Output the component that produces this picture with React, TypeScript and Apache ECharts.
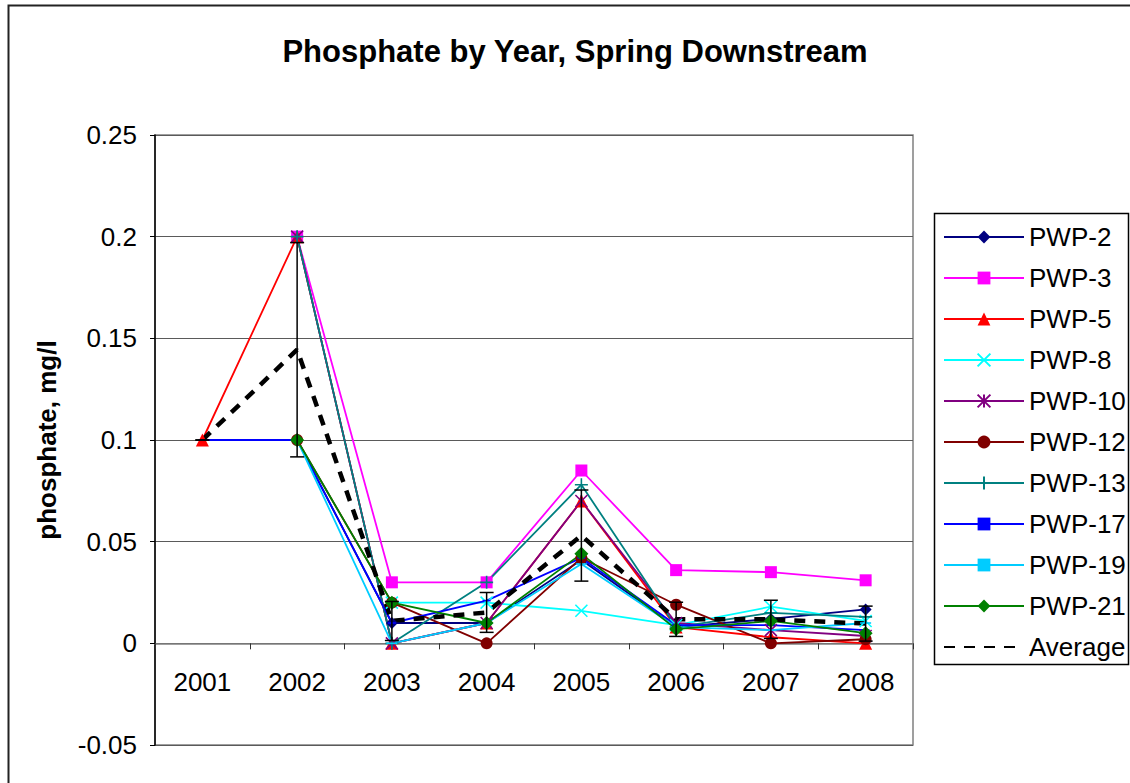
import React, { useEffect, useRef } from "react";
import * as echarts from "echarts";

const years = ["2001", "2002", "2003", "2004", "2005", "2006", "2007", "2008"];

const pwp2 = [null, 0.1, 0.01, 0.01, 0.041, 0.008, 0.012, 0.0167];
const pwp3 = [null, 0.2, 0.03, 0.03, 0.085, 0.036, 0.035, 0.031];
const pwp5 = [0.1, 0.2, 0, 0.01, 0.07, 0.008, 0.003, 0];
const pwp8 = [null, null, 0.02, 0.02, 0.016, 0.009, 0.018, 0.011];
const pwp10 = [null, 0.2, 0, 0.01, 0.07, 0.01, 0.0065, 0.0036];
const pwp12 = [null, 0.1, 0.02, 0, 0.042, 0.019, 0, 0.002];
const pwp13 = [null, 0.2, 0, 0.03, 0.078, 0.008, 0.015, 0.013];
const pwp17 = [0.1, 0.1, 0.01, 0.021, 0.042, 0.009, 0.009, 0.0065];
const pwp19 = [null, 0.1, 0, 0.01, 0.039, 0.008, 0.0065, 0.01];
const pwp21 = [null, 0.1, 0.02, 0.01, 0.044, 0.007, 0.011, 0.005];

const avgValues = [0.1, 0.1444, 0.011, 0.0152, 0.053, 0.0118, 0.0118, 0.0097];
const avgStd = [0, 0.0527, 0.0096, 0.0098, 0.0224, 0.0084, 0.0094, 0.0086];

const yTicks = { min: -0.05, max: 0.25, interval: 0.05 };

const FONT = "Arial, 'Liberation Sans', sans-serif";

const SYM_X = "path://M0,0L10,10M10,0L0,10";
const SYM_STAR = "path://M0,0L10,10M10,0L0,10M5,0L5,10";
const SYM_PLUS = "path://M5,0L5,10M0,5L10,5";
const SYM_DASH = "path://M0,0L10,0L10,4L0,4Z";

const GRID = { left: 155, right: 217, top: 135, bottom: 38 };
const CHART_H = 783;

function lineSeries(
  name: string,
  data: (number | null)[],
  color: string,
  symbol: string,
  symbolSize: number | number[],
  stroke = false,
  keepAspect = false
) {
  return {
    type: "line",
    name,
    data,
    symbol,
    symbolSize,
    symbolKeepAspect: keepAspect,
    showSymbol: true,
    connectNulls: false,
    lineStyle: { color, width: 1.8 },
    itemStyle: stroke
      ? { color: "rgba(0,0,0,0)", borderColor: color, borderWidth: 1.6 }
      : { color, borderWidth: 0 },
    emphasis: { disabled: true },
    silent: true,
  };
}

export default function App() {
  const ref = useRef<HTMLDivElement>(null);

  useEffect(() => {
    if (!ref.current) return;
    const chart = echarts.init(ref.current, undefined, { renderer: "svg" });

    const gridH = CHART_H - GRID.top - GRID.bottom;
    const zeroOffset = -((0 - yTicks.min) / (yTicks.max - yTicks.min)) * gridH;

    const series: any[] = [
      lineSeries("PWP-2", pwp2, "#000080", "diamond", 12),
      lineSeries("PWP-3", pwp3, "#FF00FF", "rect", 12),
      lineSeries("PWP-5", pwp5, "#FF0000", "triangle", 13),
      lineSeries("PWP-8", pwp8, "#00FFFF", SYM_X, 12, true),
      lineSeries("PWP-10", pwp10, "#800080", SYM_STAR, 12, true),
      lineSeries("PWP-12", pwp12, "#800000", "circle", 12),
      lineSeries("PWP-13", pwp13, "#008080", SYM_PLUS, 13, true),
      lineSeries("PWP-17", pwp17, "#0000FF", SYM_DASH, [8, 4], false, true),
      lineSeries("PWP-19", pwp19, "#00CCFF", SYM_DASH, [11, 4], false, true),
      lineSeries("PWP-21", pwp21, "#008000", "diamond", 14),
      {
        type: "line",
        name: "Average",
        data: avgValues,
        symbol: "circle",
        symbolSize: 1,
        showSymbol: false,
        lineStyle: { color: "#000", width: 4.5, type: [11, 9] },
        itemStyle: { color: "rgba(0,0,0,0)", borderWidth: 0 },
        emphasis: { disabled: true },
        silent: true,
      },
      {
        type: "custom",
        name: "err",
        silent: true,
        encode: { x: 0, y: [1, 2] },
        data: years.map((_, i) => [i, avgValues[i] - avgStd[i], avgValues[i] + avgStd[i]]),
        renderItem: (params: any, api: any) => {
          const idx = api.value(0);
          const lo = api.coord([idx, api.value(1)]);
          const hi = api.coord([idx, api.value(2)]);
          const w = 7;
          const st = { stroke: "#000", lineWidth: 1.5 };
          return {
            type: "group",
            children: [
              { type: "line", shape: { x1: lo[0], y1: lo[1], x2: hi[0], y2: hi[1] }, style: st },
              { type: "line", shape: { x1: lo[0] - w, y1: lo[1], x2: lo[0] + w, y2: lo[1] }, style: st },
              { type: "line", shape: { x1: hi[0] - w, y1: hi[1], x2: hi[0] + w, y2: hi[1] }, style: st },
            ],
          };
        },
        z: 5,
      },
    ];

    const legendNames = ["PWP-2", "PWP-3", "PWP-5", "PWP-8", "PWP-10", "PWP-12", "PWP-13", "PWP-17", "PWP-19", "PWP-21", "Average"];

    chart.setOption({
      animation: false,
      backgroundColor: "#fff",
      textStyle: { fontFamily: FONT },
      grid: {
        ...GRID,
        outerBoundsMode: "none",
        containLabel: false,
        show: true,
        borderColor: "#808080",
        borderWidth: 1.5,
        backgroundColor: "#fff",
      },
      xAxis: {
        type: "category",
        data: years,
        boundaryGap: true,
        position: "bottom",
        offset: zeroOffset,
        axisLine: { onZero: false, lineStyle: { color: "#808080", width: 1.5 } },
        axisTick: { show: true, length: 6, lineStyle: { color: "#333", width: 1 } },
        axisLabel: { fontSize: 26, color: "#000", margin: 26, fontFamily: FONT },
        splitLine: { show: false },
      },
      yAxis: {
        type: "value",
        min: yTicks.min,
        max: yTicks.max,
        interval: yTicks.interval,
        axisLine: { show: true, onZero: false, lineStyle: { color: "#000", width: 1.5 } },
        axisTick: { show: true, length: 5, lineStyle: { color: "#000", width: 1 } },
        axisLabel: { fontSize: 26, color: "#000", margin: 18, fontFamily: FONT },
        splitLine: { show: true, lineStyle: { color: "#5a5a5a", width: 1.2 } },
      },
      legend: {
        orient: "vertical",
        left: 938,
        top: 219,
        itemWidth: 80,
        itemHeight: 16,
        itemGap: 15,
        selectedMode: false,
        data: legendNames,
        textStyle: { fontSize: 26, lineHeight: 26, color: "#000", fontFamily: FONT },
      },
      graphic: [
        {
          type: "rect",
          shape: { x: 8.5, y: 5.5, width: 1200, height: 900 },
          style: { fill: "none", stroke: "#222", lineWidth: 2 },
          silent: true,
          z: 100,
        },
        {
          type: "rect",
          shape: { x: 934.5, y: 213.5, width: 194, height: 451 },
          style: { fill: "none", stroke: "#000", lineWidth: 1.5 },
          silent: true,
        },
        {
          type: "text",
          x: 575,
          y: 51,
          style: {
            text: "Phosphate by Year, Spring Downstream",
            font: `bold 31px ${FONT}`,
            fill: "#000",
            textAlign: "center",
            textVerticalAlign: "middle",
          },
        },
        {
          type: "text",
          x: 47,
          y: 440,
          rotation: Math.PI / 2,
          style: {
            text: "phosphate, mg/l",
            font: `bold 26px ${FONT}`,
            fill: "#000",
            textAlign: "center",
            textVerticalAlign: "middle",
          },
        },
      ],
      series,
    });

    return () => chart.dispose();
  }, []);

  return (
    <div
      ref={ref}
      style={{ position: "fixed", left: 0, top: 0, width: 1130, height: CHART_H, background: "#fff" }}
    />
  );
}
